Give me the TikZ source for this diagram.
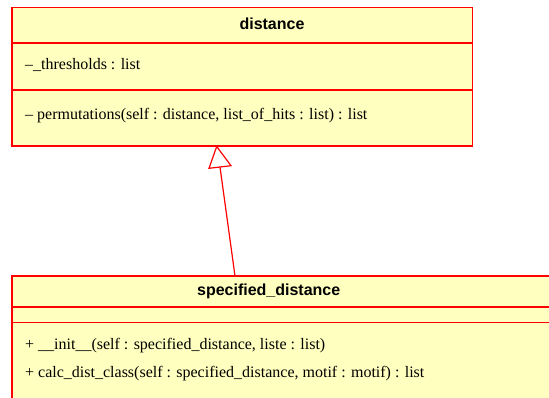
\documentclass[tikz,border=0pt]{standalone}
\usepackage{fontspec}
\setmainfont{Liberation Serif}
\setsansfont{Liberation Sans}
\begin{document}
\begin{tikzpicture}[x=1pt,y=-1pt,
  classbox/.style={draw=red, fill=umlfill, line width=1.2pt},
  sep/.style={draw=red, line width=1.2pt},
  titletext/.style={font=\sffamily\bfseries\fontsize{16}{19}\selectfont, inner sep=0pt},
  bodytext/.style={font=\fontsize{16}{19}\selectfont, anchor=west, inner sep=0pt}]
\definecolor{umlfill}{RGB}{255,255,192}
\useasboundingbox (0,0) rectangle (549,398);
% top class
\draw[classbox] (12,7.5) rectangle (472.5,146);
\draw[sep] (12,43) -- (472.5,43);
\draw[sep] (12,90) -- (472.5,90);
\node[titletext] (t1) at (272,24) {distance};
\node[bodytext] (a1) at (25,64.5) {–\_thresholds : list};
\node[bodytext] (m1) at (25,115.5) {– permutations(self : distance, list\_of\_hits : list) : list};
% bottom class (cut off by picture edge)
\begin{scope}
\clip (0,0) rectangle (549,398);
\draw[classbox] (12,276) rectangle (560,410);
\draw[sep] (12,307) -- (560,307);
\draw[sep] (12,322.5) -- (560,322.5);
\end{scope}
\node[titletext] (t2) at (268.7,291) {specified\_distance};
\node[bodytext] (m2) at (25,345.5) {+ \_\_init\_\_(self : specified\_distance, liste : list)};
\node[bodytext] (m3) at (25,373.5) {+ calc\_dist\_class(self : specified\_distance, motif : motif) : list};
% generalization arrow
\coordinate (tip) at (216.7,146.5);
\coordinate (bl) at (209,168.3);
\coordinate (br) at (231,165.7);
\coordinate (bm) at (220,167);
\coordinate (src) at (235,276);
\draw[red, line width=1.2pt] (src) -- (bm);
\draw[red, line width=1.2pt, fill=white, line join=miter] (tip) -- (bl) -- (br) -- cycle;
\end{tikzpicture}
\end{document}
